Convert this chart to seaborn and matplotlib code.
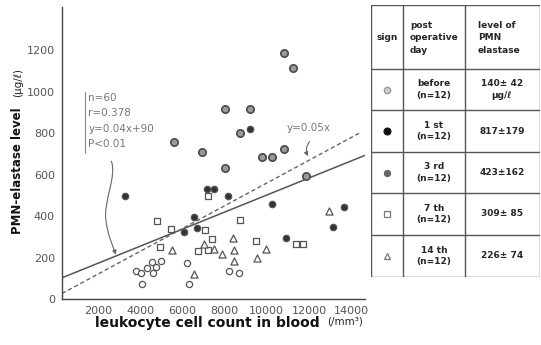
import numpy as np
import pandas as pd
import matplotlib
matplotlib.use("Agg")
import matplotlib.pyplot as plt
import seaborn as sns
from matplotlib.path import Path
from matplotlib.patches import FancyArrowPatch

# ---------------- data ----------------
before_x = [3793, 4043, 4345, 4549, 4629, 4771, 4974, 4110, 6235, 6311, 8200, 8673]
before_y = [135, 127, 151, 180, 127, 156, 184, 71, 172, 71, 137, 124]

day1_x = [5602, 6911, 10799, 11257, 7997, 9211, 8753, 9760, 10265, 10799, 7997, 11856]
day1_y = [758, 710, 1190, 1114, 918, 918, 803, 687, 687, 726, 631, 594]

day3_x = [3307, 7180, 7478, 8153, 6533, 6689, 6075, 10231, 10912, 13632, 13113, 9211]
day3_y = [499, 531, 531, 499, 395, 344, 322, 459, 293, 443, 346, 820]

day7_x = [7209, 4785, 5446, 7052, 8739, 7416, 4927, 6737, 7209, 9494, 11384, 11729]
day7_y = [499, 377, 338, 332, 382, 288, 250, 232, 235, 280, 264, 264]

day14_x = [5494, 7005, 7492, 7870, 8422, 8436, 8436, 6533, 9967, 9542, 12924]
day14_y = [237, 264, 242, 216, 293, 237, 184, 121, 242, 197, 425]

# regression lines as drawn (slope, intercept, x-range)
solid_fit = [0.0412, 90]
solid_range = [300, 14650]
dashed_fit = [0.055, 10]
dashed_range = [300, 14400]

stats_lines = ["n=60", "r=0.378", "y=0.04x+90", "P<0.01"]
dashed_label = "y=0.05x"

x_ticks = [2000, 4000, 6000, 8000, 10000, 12000, 14000]
y_ticks = [0, 200, 400, 600, 800, 1000, 1200]

table_days = ["before\n(n=12)", "1 st\n(n=12)", "3 rd\n(n=12)", "7 th\n(n=12)", "14 th\n(n=12)"]
table_levels = ["140\u00b1 42\n\u03bcg/\u2113", "817\u00b1179", "423\u00b1162", "309\u00b1 85", "226\u00b1 74"]

# ---------------- style ----------------
sns.set_style("white")
plt.rcParams["font.family"] = ["DejaVu Sans"]

W, H = 541, 345
fig = plt.figure(figsize=(W / 100, H / 100), dpi=100)

def px_box(x0, y0, x1, y1):
    return [x0 / W, 1 - y1 / H, (x1 - x0) / W, (y1 - y0) / H]

ax = fig.add_axes(px_box(62, 7, 365, 299))

frames = []
for name, xs, ys in [("before", before_x, before_y), ("1st", day1_x, day1_y),
                     ("3rd", day3_x, day3_y), ("7th", day7_x, day7_y),
                     ("14th", day14_x, day14_y)]:
    frames.append(pd.DataFrame({"x": xs, "y": ys, "group": name}))
df = pd.concat(frames, ignore_index=True)

styles = {
    "before": dict(marker="o", s=20, face="white", edge="#555555", lw=0.9),
    "1st": dict(marker="o", s=28, face="#9a9a9a", edge="#4a4a4a", lw=1.2),
    "3rd": dict(marker="o", s=22, face="#333333", edge="#555555", lw=0.8),
    "7th": dict(marker="s", s=22, face="white", edge="#555555", lw=0.9),
    "14th": dict(marker="^", s=26, face="white", edge="#555555", lw=0.9),
}

# lines first
lx = np.array(solid_range)
ax.plot(lx, solid_fit[0] * lx + solid_fit[1], color="#555555", lw=1.1, zorder=2)
dx = np.array(dashed_range)
ax.plot(dx, dashed_fit[0] * dx + dashed_fit[1], color="#666666", lw=1.0,
        ls=(0, (3, 2)), zorder=2)

for g, st in styles.items():
    sub = df[df["group"] == g]
    sns.scatterplot(data=sub, x="x", y="y", marker=st["marker"], s=st["s"],
                    color=st["edge"], ax=ax, zorder=3, legend=False)
    coll = ax.collections[-1]
    coll.set_facecolor(st["face"])
    coll.set_edgecolor(st["edge"])
    coll.set_linewidth(st["lw"])

ax.set_xlim(300, 14650)
ax.set_ylim(0, 1410)
ax.set_xticks(x_ticks)
ax.set_yticks(y_ticks)
ax.set_xlabel("")
ax.set_ylabel("")
for s in ["top", "right"]:
    ax.spines[s].set_visible(False)
for s in ["left", "bottom"]:
    ax.spines[s].set_color("#444444")
    ax.spines[s].set_linewidth(1.0)
ax.tick_params(axis="both", which="both", direction="out", length=3, width=0.8,
               color="#555555", labelsize=8, labelcolor="#555555", pad=2)

# stats annotation
tx = 1555
for t, yy in zip(stats_lines, [970, 897, 821, 747]):
    ax.text(tx, yy, t, fontsize=7.5, color="#777777", va="center", ha="left")
ax.plot([1370, 1370], [705, 1000], color="#888888", lw=0.8)

verts = [(2640, 665), (2900, 590), (2250, 470), (2380, 380),
         (2480, 300), (2700, 260), (2850, 214)]
codes = [Path.MOVETO, Path.CURVE4, Path.CURVE4, Path.CURVE4,
         Path.CURVE4, Path.CURVE4, Path.CURVE4]
arr = FancyArrowPatch(path=Path(verts, codes), arrowstyle="-|>", mutation_scale=6,
                      color="#666666", lw=0.8)
ax.add_patch(arr)

ax.text(11970, 826, dashed_label, fontsize=7.5, color="#777777", ha="center", va="center")
ax.annotate("", xy=(12016, 678), xytext=(12110, 770),
            arrowprops=dict(arrowstyle="-|>", color="#666666", lw=0.8,
                            mutation_scale=6, connectionstyle="arc3,rad=0.4"))

# axis labels
fig.text(18 / W, 1 - 234 / H, "PMN-elastase level", rotation=90, ha="center",
         va="bottom", fontsize=8.5, fontweight="bold", color="#111111")
fig.text(18 / W, 1 - 97 / H, "(\u03bcg/\u2113)", rotation=90, ha="center",
         va="bottom", fontsize=7.5, color="#222222")
fig.text(95 / W, 1 - 323 / H, "leukocyte cell count in blood", ha="left",
         va="center", fontsize=10, fontweight="bold", color="#111111")
fig.text(327 / W, 1 - 321 / H, "(/mm\u00b3)", ha="left", va="center",
         fontsize=7.5, color="#222222")

# ---------------- table ----------------
tab = fig.add_axes(px_box(371, 5, 540, 277))
tab.set_xlim(371, 540)
tab.set_ylim(277, 5)
tab.axis("off")
lc = "#555555"
rows = [5, 69, 110, 152, 193, 235, 277]
cols = [371, 403, 465, 540]
for yy in rows:
    tab.plot([cols[0], cols[-1]], [yy, yy], color=lc, lw=1.0)
for xx in cols:
    tab.plot([xx, xx], [rows[0], rows[-1]], color=lc, lw=1.0)

fs = 6.5
tab.text(387, 37, "sign", ha="center", va="center", fontsize=fs, fontweight="bold")
tab.text(410, 38, "post\noperative\nday", ha="left", va="center", fontsize=fs,
         fontweight="bold", linespacing=1.5)
tab.text(478, 38, "level of\nPMN\nelastase", ha="left", va="center", fontsize=fs,
         fontweight="bold", linespacing=1.5)

centers = [(rows[i] + rows[i + 1]) / 2 for i in range(1, 6)]
sign_styles = [
    dict(marker="o", ms=4.5, mfc="#cccccc", mec="#999999", mew=1.0),
    dict(marker="o", ms=5, mfc="#111111", mec="#111111", mew=0.8),
    dict(marker="o", ms=4.5, mfc="#666666", mec="#666666", mew=0.8),
    dict(marker="s", ms=4.5, mfc="white", mec="#777777", mew=0.9),
    dict(marker="^", ms=5, mfc="white", mec="#777777", mew=0.9),
]
for cy, d, lv, ss in zip(centers, table_days, table_levels, sign_styles):
    tab.plot([387], [cy], linestyle="none", **ss)
    tab.text(434, cy, d, ha="center", va="center", fontsize=fs, fontweight="bold",
             linespacing=1.4)
    tab.text(502, cy, lv, ha="center", va="center", fontsize=fs, fontweight="bold",
             linespacing=1.4)

fig.savefig("out.png", dpi=100)
